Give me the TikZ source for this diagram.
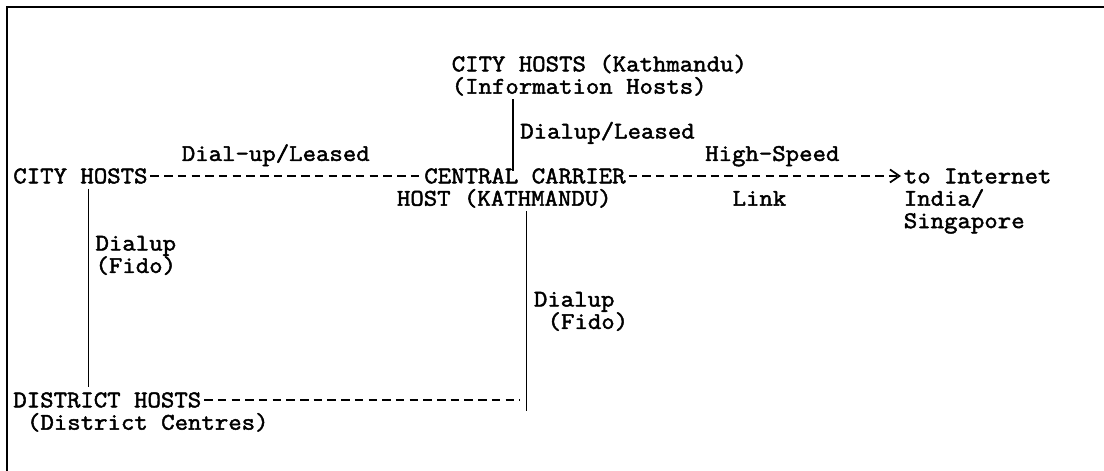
\documentclass[tikz,border=0pt]{standalone}
\usepackage{fontspec}
\usepackage{tikz}
\usetikzlibrary{arrows.meta}
\newfontfamily\asciifont[FakeBold=2,FakeStretch=1.09]{Latin Modern Mono}

\begin{document}
\begin{tikzpicture}[x=0.274cm,y=-0.448cm]
	\tikzstyle{ascii}=[inner sep=0pt,anchor=west,text height=8.3pt,text depth=0pt,font=\asciifont\fontsize{13.6pt}{15pt}\selectfont]
	\tikzstyle{wire}=[line width=1pt,dash pattern=on 0.17cm off 0.104cm,dash phase=0.222cm]
	\tikzstyle{bar}=[line width=0.7pt,shorten <=1mm]

	\useasboundingbox (-0.26cm,1.28cm) rectangle (21.82cm,-8.14cm);
	\draw[line width=1.4pt] (21.82cm,1.14cm) -- (-0.12cm,1.14cm) -- (-0.12cm,-8.14cm);

	% hosts
	\node[ascii] (kathmandu) at (32,0) {CITY HOSTS (Kathmandu)};
	\node[ascii] (infohosts) at (32,1) {(Information Hosts)};
	\node[ascii] (city) at (0,5) {CITY HOSTS};
	\node[ascii] (central) at (30,5) {CENTRAL CARRIER};
	\node[ascii] (centralhost) at (28,6) {HOST (KATHMANDU)};
	\node[ascii] (internet) at (65,5) {to Internet};
	\node[ascii] (india) at (65,6) {India/};
	\node[ascii] (singapore) at (65,7) {Singapore};
	\node[ascii] (district) at (0,15) {DISTRICT HOSTS};
	\node[ascii] (centres) at (1,16) {(District Centres)};

	% link types
	\node[ascii] (topleased) at (37,3) {Dialup/Leased};
	\node[ascii] (dialleased) at (12.3,4) {Dial-up/Leased};
	\node[ascii] (highspeed) at (50.5,4) {High-Speed};
	\node[ascii] (link) at (52.5,6) {Link};
	\node[ascii] (leftdial) at (6,8) {Dialup};
	\node[ascii] (leftfido) at (6,9) {(Fido)};
	\node[ascii] (rightdial) at (38,10.5) {Dialup};
	\node[ascii] (rightfido) at (39,11.5) {(Fido)};

	\coordinate (upcol) at (36.5,0);
	\coordinate (leftcol) at (5.5,0);
	\coordinate (corner) at (37.5,15.5);

	\draw[wire] (city.east) -- (central.west);
	\draw[wire,shorten >=0.5mm,-{Straight Barb[length=1.9mm,width=2.6mm]}] (central.east) -- (internet.west);
	\draw[wire] (district.east) -- ([xshift=-1.37mm]district.east -| corner);

	\draw[bar,shorten >=-0.5mm] (infohosts.south -| upcol) -- (central.north -| upcol);
	\draw[bar,shorten >=1mm] (city.south -| leftcol) -- (district.north -| leftcol);
	\draw[bar] (centralhost.south -| corner) -- (corner);

\end{tikzpicture}
\end{document}
